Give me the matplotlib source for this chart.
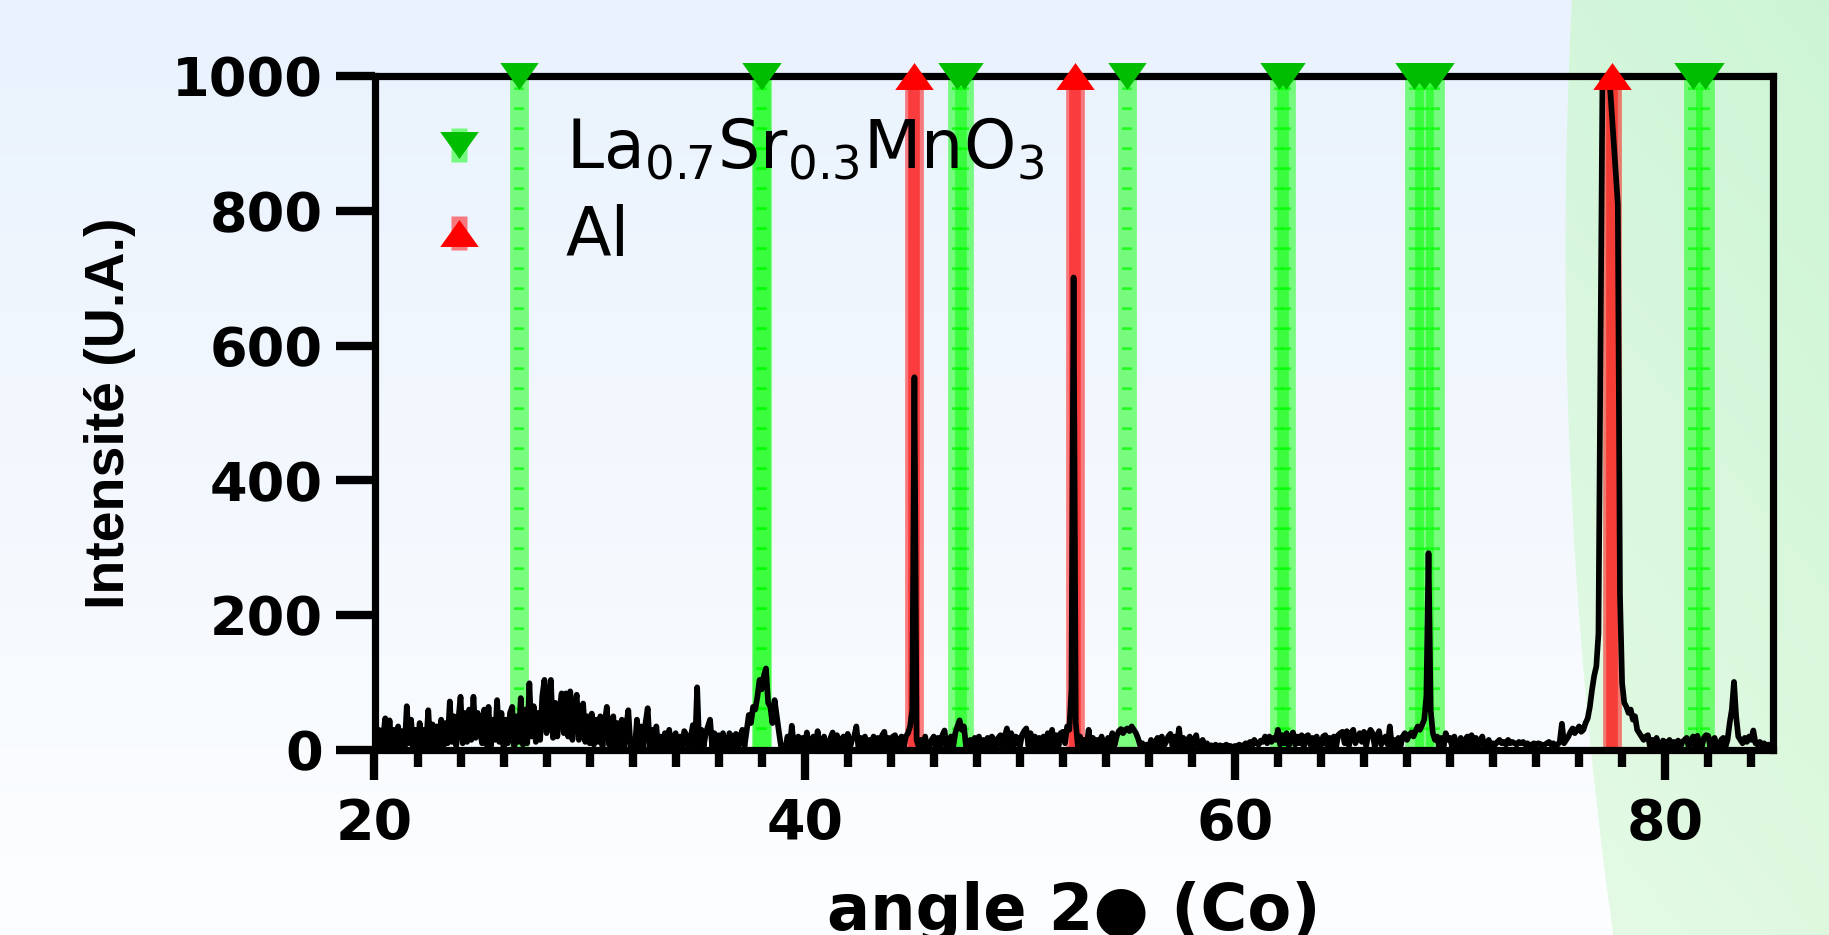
import numpy as np
import matplotlib
matplotlib.use("Agg")
import matplotlib.pyplot as plt
from matplotlib import font_manager
from matplotlib.lines import Line2D
from matplotlib.ticker import MultipleLocator

# XRD pattern, Co K-alpha, one value every 0.1 deg from 20 to 85 deg
theta_start = 20.0
theta_step = 0.1
counts = [
    25, 3, 30, 0, 20, 47, 5, 44, 2, 30,           # 20
    4, 35, 6, 28, 2, 65, 10, 45, 3, 30,           # 21
    5, 40, 2, 30, 8, 59, 5, 38, 2, 35,            # 22
    8, 45, 5, 40, 10, 72, 12, 50, 6, 45,          # 23
    79, 10, 55, 12, 60, 15, 79, 18, 55, 30,       # 24
    10, 60, 8, 64, 5, 45, 15, 74, 12, 55,         # 25
    3, 45, 10, 55, 64, 5, 50, 12, 77, 8,          # 26
    60, 10, 99, 20, 65, 12, 55, 15, 80, 104,      # 27
    25, 75, 104, 18, 70, 20, 60, 84, 25, 84,      # 28
    20, 87, 15, 60, 82, 15, 55, 69, 12, 50,       # 29
    10, 54, 8, 45, 12, 50, 5, 40, 64, 8,          # 30
    5, 50, 3, 40, 8, 45, 2, 35, 59, 5,            # 31
    12, 2, 45, 0, 35, 5, 40, 62, 3, 30,           # 32
    2, 35, 0, 20, 2, 25, 4, 30, 0, 18,            # 33
    25, 2, 20, 3, 28, 22, 2, 18, 37, 4,           # 34
    93, 3, 30, 5, 25, 35, 45, 4, 25, 2,           # 35
    22, 3, 25, 6, 1, 25, 20, 2, 24, 4,            # 36
    20, 30, 5, 28, 52, 40, 64, 60, 79, 104,       # 37
    90, 110, 121, 70, 64, 40, 74, 50, 27, 5,      # 38
    2, 1, 20, 3, 36, 4, 1, 20, 3, 18,             # 39
    2, 26, 5, 3, 20, 1, 28, 4, 2, 20,             # 40
    4, 2, 18, 26, 1, 22, 3, 15, 20, 1,            # 41
    24, 3, 15, 20, 35, 2, 18, 3, 20, 1,           # 42
    15, 2, 20, 4, 18, 1, 22, 27, 2, 18,           # 43
    3, 20, 22, 2, 15, 20, 3, 20, 25, 35,          # 44
    60, 553, 15, 5, 15, 3, 20, 2, 5, 15,          # 45
    20, 4, 18, 2, 22, 29, 3, 15, 20, 4,           # 46
    25, 35, 44, 30, 35, 5, 2, 15, 3, 18,          # 47
    4, 20, 2, 15, 3, 18, 4, 20, 15, 3,            # 48
    18, 22, 4, 20, 32, 5, 25, 4, 20, 18,          # 49
    5, 22, 28, 32, 6, 25, 5, 20, 3, 18,           # 50
    4, 20, 6, 25, 8, 30, 4, 22, 6, 25,            # 51
    27, 10, 35, 30, 90, 701, 40, 5, 20, 3,        # 52
    15, 4, 30, 3, 18, 2, 15, 4, 20, 3,            # 53
    5, 18, 3, 25, 6, 20, 28, 31, 25, 30,          # 54
    32, 28, 35, 30, 25, 17, 6, 10, 3, 8,          # 55
    3, 15, 2, 12, 18, 4, 20, 6, 12, 20,           # 56
    24, 5, 20, 6, 32, 4, 18, 3, 15, 20,           # 57
    4, 15, 22, 3, 8, 15, 4, 10, 3, 7,             # 58
    5, 8, 4, 7, 5, 6, 8, 5, 6, 4,                 # 59
    6, 5, 8, 6, 7, 10, 8, 12, 6, 15,              # 60
    10, 8, 14, 12, 20, 10, 20, 12, 18, 15,        # 61
    30, 8, 22, 10, 25, 6, 20, 26, 8, 20,          # 62
    10, 22, 5, 20, 22, 8, 18, 4, 20, 10,          # 63
    6, 20, 22, 5, 18, 8, 20, 4, 22, 25,           # 64
    27, 10, 28, 6, 25, 30, 10, 18, 25, 12,        # 65
    27, 6, 22, 30, 25, 5, 20, 28, 8, 15,          # 66
    20, 8, 35, 4, 15, 3, 18, 6, 20, 25,           # 67
    15, 22, 26, 20, 28, 35, 30, 37, 45, 80,       # 68
    292, 59, 25, 15, 20, 4, 18, 5, 25, 15,        # 69
    18, 4, 20, 6, 3, 18, 5, 15, 20, 3,            # 70
    22, 4, 18, 3, 15, 20, 5, 2, 15, 3,            # 71
    10, 8, 12, 15, 10, 12, 8, 15, 10, 12,         # 72
    10, 8, 12, 10, 12, 8, 10, 6, 8, 10,           # 73
    8, 10, 9, 6, 8, 10, 12, 8, 10, 6,             # 74
    8, 12, 39, 10, 15, 20, 27, 32, 25, 30,        # 75
    35, 27, 30, 40, 47, 64, 89, 110, 124, 173,    # 76
    620, 1060, 1070, 1050, 1002, 954, 906, 858, 810, 230,  # 77
    99, 70, 64, 55, 60, 45, 50, 30, 25, 20,       # 78
    15, 20, 22, 4, 15, 3, 18, 5, 3, 14,           # 79
    12, 2, 15, 4, 12, 2, 14, 3, 12, 15,           # 80
    18, 4, 15, 20, 5, 21, 6, 4, 18, 22,           # 81
    21, 4, 15, 18, 3, 2, 15, 18, 4, 15,           # 82
    40, 60, 101, 50, 20, 15, 10, 18, 12, 20,      # 83
    15, 29, 10, 8, 12, 8, 10, 5, 8, 6,            # 84
    5,                                            # 85
]
two_theta = np.round(theta_start + theta_step * np.arange(len(counts)), 2)

# reference line positions (deg 2theta)
lsmo_peaks = [26.7, 37.98, 38.02, 47.08, 47.42, 55.0, 62.06, 62.38,
              68.33, 68.79, 69.28, 81.3, 81.83]
al_peaks = [45.1, 52.56, 77.54]

x_lim = (20, 85)
y_lim = (0, 1000)
x_ticks_major = 20
x_ticks_minor = 2
y_ticks_major = 200

lsmo_label = r"La$_{0.7}$Sr$_{0.3}$MnO$_3$"
al_label = "Al"
x_label = "angle 2\u25cf (Co)"
y_label = "Intensit\u00e9 (U.A.)"

# colours
lsmo_marker = "#00bd00"
lime = (0.0, 1.0, 0.0)
al_red = (1.0, 0.0, 0.0)

plt.rcParams["font.family"] = ["DejaVu Sans"]
plt.rcParams["font.weight"] = "bold"
plt.rcParams["axes.linewidth"] = 5.2
# keep the subscripts of the legend in regular weight
plt.rcParams["mathtext.fontset"] = "custom"
plt.rcParams["mathtext.rm"] = "DejaVu Sans:weight=normal"
plt.rcParams["mathtext.it"] = "DejaVu Sans:italic:weight=normal"
plt.rcParams["mathtext.bf"] = "DejaVu Sans:weight=bold"

installed = {f.name for f in font_manager.fontManager.ttflist}
if "Liberation Sans Narrow" in installed:
    ylab_family, ylab_size = "Liberation Sans Narrow", 48
else:
    ylab_family, ylab_size = "Liberation Sans", 40

W, H = 1829, 935
fig = plt.figure(figsize=(W / 100, H / 100), dpi=100)

# slide-like background: light blue gradient with a green panel on the right
yy, xx = np.mgrid[0:H, 0:W]
t = (yy / (H - 1))[..., None]
blue = np.array([233, 242, 253]) / 255 * (1 - t) + np.array([253, 254, 255]) / 255 * t
green = np.array([211, 246, 219]) / 255 * (1 - t) + np.array([229, 250, 229]) / 255 * t
green = green - (0.025 * np.clip((xx - 1565) / 264, 0, 1))[..., None] * np.array([1.0, 0.2, 1.0])
edge = 1565 + 1.02e-4 * (yy - 250) ** 2
w = np.clip(xx - edge + 0.5, 0, 1)[..., None]
bg_img = blue * (1 - w) + green * w
bg_ax = fig.add_axes([0, 0, 1, 1], zorder=-1)
bg_ax.imshow(bg_img, aspect="auto", extent=(0, 1, 0, 1), interpolation="bilinear")
bg_ax.axis("off")

ax = fig.add_axes([374.5 / W, 1 - 750 / H, 1398.2 / W, 674 / H])
ax.set_facecolor("none")

# reference bands
for p in lsmo_peaks:
    ax.axvline(p, color=lime, alpha=0.5, lw=13.5, solid_capstyle="butt", zorder=1)
    ax.axvline(p, color=lime, alpha=0.7, lw=7.2, dashes=(0.27, 1.73), zorder=1.1)
for p in al_peaks:
    ax.axvline(p, color=al_red, alpha=0.5, lw=13.5, solid_capstyle="butt", zorder=1)
    ax.axvline(p, color=al_red, alpha=0.5, lw=8.4, solid_capstyle="butt", zorder=1.1)

ax.plot(two_theta, counts, color="black", lw=4.1, zorder=3)

tri_down = [(-1, 0.7), (1, 0.7), (0, -0.7), (-1, 0.7)]
tri_up = [(-1, -0.7), (1, -0.7), (0, 0.7), (-1, -0.7)]
bar = [(-0.47, -1), (0.47, -1), (0.47, 1), (-0.47, 1), (-0.47, -1)]

ax.plot(lsmo_peaks, np.full(len(lsmo_peaks), y_lim[1]), ls="none", marker=tri_down,
        ms=27.7, mfc=lsmo_marker, mec="none", clip_on=False, zorder=6)
ax.plot(al_peaks, np.full(len(al_peaks), y_lim[1]), ls="none", marker=tri_up,
        ms=27.7, mfc=al_red, mec="none", clip_on=False, zorder=6)

ax.set_xlim(*x_lim)
ax.set_ylim(*y_lim)
ax.xaxis.set_major_locator(MultipleLocator(x_ticks_major))
ax.xaxis.set_minor_locator(MultipleLocator(x_ticks_minor))
ax.yaxis.set_major_locator(MultipleLocator(y_ticks_major))
ax.tick_params(axis="x", which="major", length=21.6, width=6, pad=12, labelsize=40)
ax.tick_params(axis="x", which="minor", length=12, width=6)
ax.tick_params(axis="y", which="major", length=28, width=6, pad=9, labelsize=39)
for sp in ax.spines.values():
    sp.set_zorder(4)

ax.set_xlabel(x_label, fontsize=46, fontweight="bold")
ax.xaxis.label.set_verticalalignment("baseline")
ax.xaxis.set_label_coords(0.5, -0.267)
ax.set_ylabel(y_label, fontsize=ylab_size, fontweight="bold", family=ylab_family)
ax.yaxis.label.set_verticalalignment("baseline")
ax.yaxis.set_label_coords(-0.179, 0.5)

# legend: light bar with the phase marker on top
h_lsmo = (Line2D([], [], ls="none", marker=bar, ms=25, mfc=(0, 1, 0, 0.5), mec="none"),
          Line2D([], [], ls="none", marker=tri_down, ms=27.7, mfc=lsmo_marker, mec="none"))
h_al = (Line2D([], [], ls="none", marker=bar, ms=25, mfc=(1, 0, 0, 0.5), mec="none"),
        Line2D([], [], ls="none", marker=tri_up, ms=27.7, mfc=al_red, mec="none"))
ax.legend([h_lsmo, h_al], [lsmo_label, al_label], loc="center left",
          bbox_to_anchor=(0.0365, 0.8265), frameon=False, borderpad=0, borderaxespad=0,
          handlelength=1.0, handletextpad=1.1, labelspacing=0.33, numpoints=1,
          prop={"family": "DejaVu Sans", "size": 48, "weight": "normal"})

fig.savefig("out.png", dpi=100)
